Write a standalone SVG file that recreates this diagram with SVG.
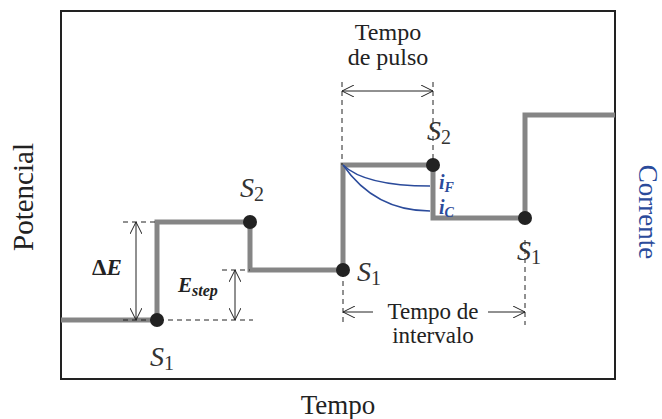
<svg xmlns="http://www.w3.org/2000/svg" width="662" height="419" viewBox="0 0 662 419">
<style>
.frame{fill:none;stroke:#222;stroke-width:2}
.stair{fill:none;stroke:#858585;stroke-width:5;stroke-linejoin:miter}
.dot{fill:#222}
.dash{stroke:#222;stroke-width:1;stroke-dasharray:5,4;fill:none}
.arr{stroke:#222;stroke-width:1;fill:none}
.lbl{font-family:"Liberation Serif",serif;fill:#222}
.s{font-family:"Liberation Serif",serif;fill:#333;font-style:italic}
.cur{fill:none;stroke:#2b4b9b;stroke-width:1.5}
.bl{font-family:"Liberation Serif",serif;font-style:italic;font-weight:bold;fill:#2b4b9b}
</style>
<defs>
<marker id="ah" viewBox="0 0 12 12" refX="12" refY="6" markerWidth="12" markerHeight="12" markerUnits="userSpaceOnUse" orient="auto-start-reverse">
<path d="M0,0 L12,6 L0,12" fill="none" stroke="#222" stroke-width="1"/>
</marker>
</defs>
<rect class="frame" x="61" y="11" width="554" height="368"/>
<g id="connectors">
<polyline class="stair" points="61,320 157,320 157,222 250,222 250,270 343,270 343,165 433,165 433,218 525,218 525,115 615,115"/>
<path class="cur" d="M343,165 Q365,186 430,186"/>
<path class="cur" d="M343,165 Q375,211 430,211"/>
<line class="dash" x1="123" y1="222" x2="157" y2="222"/>
<line class="dash" x1="123" y1="320" x2="253" y2="320"/>
<line class="dash" x1="222" y1="270" x2="250" y2="270"/>
<line class="arr" x1="136" y1="222" x2="136" y2="320" marker-start="url(#ah)" marker-end="url(#ah)"/>
<line class="arr" x1="235" y1="270" x2="235" y2="320" marker-start="url(#ah)" marker-end="url(#ah)"/>
<line class="dash" x1="342" y1="82" x2="342" y2="165"/>
<line class="dash" x1="433" y1="82" x2="433" y2="165"/>
<line class="arr" x1="342" y1="91" x2="433" y2="91" marker-start="url(#ah)" marker-end="url(#ah)"/>
<line class="dash" x1="343" y1="272" x2="343" y2="325"/>
<line class="dash" x1="525" y1="240" x2="525" y2="325"/>
<line class="arr" x1="343" y1="312" x2="373" y2="312" marker-start="url(#ah)"/>
<line class="arr" x1="488" y1="312" x2="525" y2="312" marker-end="url(#ah)"/>
</g>
<g id="dots">
<circle class="dot" cx="157" cy="320" r="7"/>
<circle class="dot" cx="250" cy="222" r="7"/>
<circle class="dot" cx="343" cy="270" r="7"/>
<circle class="dot" cx="433" cy="165" r="7"/>
<circle class="dot" cx="525" cy="218" r="7"/>
</g>
<g id="labels">
<text class="s" x="150" y="366" font-size="28">S<tspan font-style="normal" font-size="20" dy="4">1</tspan></text>
<text class="s" x="240" y="197" font-size="28">S<tspan font-style="normal" font-size="20" dy="4">2</tspan></text>
<text class="s" x="357" y="281" font-size="28">S<tspan font-style="normal" font-size="20" dy="4">1</tspan></text>
<text class="s" x="427" y="140" font-size="28">S<tspan font-style="normal" font-size="20" dy="4">2</tspan></text>
<text class="s" x="517" y="260" font-size="28">S<tspan font-style="normal" font-size="20" dy="4">1</tspan></text>
<text class="lbl" x="92" y="275" font-size="23" font-weight="bold">Δ<tspan font-style="italic">E</tspan></text>
<text class="lbl" x="178" y="292" font-size="21" font-weight="bold" font-style="italic">E<tspan font-size="16" dy="4">step</tspan></text>
<text class="bl" x="439" y="189" font-size="20">i<tspan font-size="14" dy="3">F</tspan></text>
<text class="bl" x="439" y="214" font-size="20">i<tspan font-size="14" dy="3">C</tspan></text>
<text class="lbl" x="388" y="40" font-size="24" text-anchor="middle">Tempo</text>
<text class="lbl" x="388" y="65" font-size="24" text-anchor="middle">de pulso</text>
<text class="lbl" x="433" y="319" font-size="23" text-anchor="middle">Tempo de</text>
<text class="lbl" x="433" y="343" font-size="23" text-anchor="middle">intervalo</text>
<text class="lbl" x="338" y="414" font-size="27" text-anchor="middle">Tempo</text>
<text class="lbl" transform="translate(33,197) rotate(-90)" font-size="29" text-anchor="middle">Potencial</text>
<text class="lbl" transform="translate(639,212) rotate(90)" font-size="27" text-anchor="middle" style="fill:#2b4b9b">Corrente</text>
</g>
</svg>
